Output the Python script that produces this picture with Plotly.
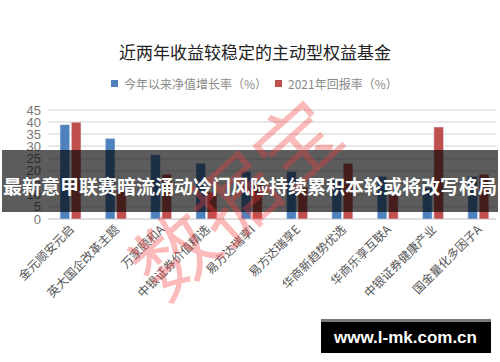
import plotly.graph_objects as go

categories = ["金元顺安元启", "英大国企改革主题", "万家颐和A", "中银证券价值精选", "易方达瑞享I",
              "易方达瑞享E", "华商新趋势优选", "华商乐享互联A", "中银证券健康产业", "国金量化多因子A"]
ytd_growth = [39.0, 33.3, 26.5, 23.0, 19.6, 19.6, 16.3, 17.6, 13.0, 17.6]
return_2021 = [40.0, 12.0, 18.5, 11.0, 15.0, 13.0, 23.0, 10.0, 38.0, 18.5]
series_names = ["今年以来净值增长率（%）", "2021年回报率（%）"]
y_ticks = [0, 5, 10, 15, 20, 25, 30, 35, 40, 45]

title_text = "近两年收益较稳定的主动型权益基金"
banner_text = "最新意甲联赛暗流涌动冷门风险持续累积本轮或将改写格局"
site_text = "www.l-mk.com.cn"
watermark_text = "数据宝"

BLUE = "#4f81bd"
RED = "#c0504d"
CJK = "Noto Sans CJK SC"

L, R, T, B = 48, 4, 106, 143
WID, HEI = 500, 362
PW, PH = WID - L - R, HEI - T - B


def xp(px):
    return (px - L) / PW


def yp(py):
    return (HEI - B - py) / PH


fig = go.Figure()
fig.add_trace(go.Bar(x=categories, y=ytd_growth, name=series_names[0], marker_color=BLUE))
fig.add_trace(go.Bar(x=categories, y=return_2021, name=series_names[1], marker_color=RED))

shapes = []
annotations = []

# title
annotations.append(dict(text=title_text, x=xp(255), y=yp(52), xref="paper", yref="paper",
                        showarrow=False, font=dict(family=CJK, size=17, color="#222222"),
                        xanchor="center", yanchor="middle"))
# manual legend
legend_items = [(111, 122, BLUE, series_names[0]), (275, 286, RED, series_names[1])]
for sx, tx, col, name in legend_items:
    shapes.append(dict(type="rect", xref="paper", yref="paper", x0=xp(sx), x1=xp(sx + 7),
                       y0=yp(80), y1=yp(87), fillcolor=col, line=dict(width=0)))
    annotations.append(dict(text=name, x=xp(tx), y=yp(83.5), xref="paper", yref="paper",
                            showarrow=False, xanchor="left", yanchor="middle",
                            font=dict(family=CJK, size=12, color="#8a8a8a")))

# watermark
annotations.append(dict(text=watermark_text, x=xp(232), y=yp(195), xref="paper", yref="paper",
                        showarrow=False, textangle=-42, xanchor="center", yanchor="middle",
                        font=dict(family=CJK, size=82, color="rgba(245,60,60,0.35)")))

# banner
shapes.append(dict(type="rect", xref="paper", yref="paper", x0=xp(2), x1=xp(498),
                   y0=yp(212), y1=yp(150), fillcolor="rgba(0,0,0,0.64)", line=dict(width=0)))
annotations.append(dict(text="<b>" + banner_text + "</b>", x=xp(250), y=yp(185), xref="paper",
                        yref="paper", showarrow=False, xanchor="center", yanchor="middle",
                        font=dict(family=CJK, size=19, color="white")))

# site box
shapes.append(dict(type="rect", xref="paper", yref="paper", x0=xp(321), x1=xp(491),
                   y0=yp(353), y1=yp(319), fillcolor="black", line=dict(width=0)))
shapes.append(dict(type="rect", xref="paper", yref="paper", x0=xp(321), x1=xp(491),
                   y0=yp(322), y1=yp(319), fillcolor="#7a7a7a", line=dict(width=0)))
annotations.append(dict(text="<b>" + site_text + "</b>", x=xp(405), y=yp(337), xref="paper",
                        yref="paper", showarrow=False, xanchor="center", yanchor="middle",
                        font=dict(family="Liberation Sans", size=17, color="white")))

fig.update_layout(
    width=WID, height=HEI,
    margin=dict(l=L, r=R, t=T, b=B),
    paper_bgcolor="white", plot_bgcolor="white",
    showlegend=False,
    barmode="group", bargap=0.5, bargroupgap=0.15,
    shapes=shapes, annotations=annotations,
    xaxis=dict(range=[-0.497, 9.39], tickangle=-45, showgrid=False, showline=False,
               ticks="", tickfont=dict(family=CJK, size=12, color="#555555")),
    yaxis=dict(range=[0, 46.7], tickvals=y_ticks, showgrid=True, gridcolor="#e8e8e8",
               gridwidth=1.5, zeroline=True, zerolinecolor="#dddddd", zerolinewidth=1.5,
               ticks="", ticklabelstandoff=6,
               tickfont=dict(family="Liberation Sans", size=13, color="#777777")),
)

fig.write_html("out.html")
